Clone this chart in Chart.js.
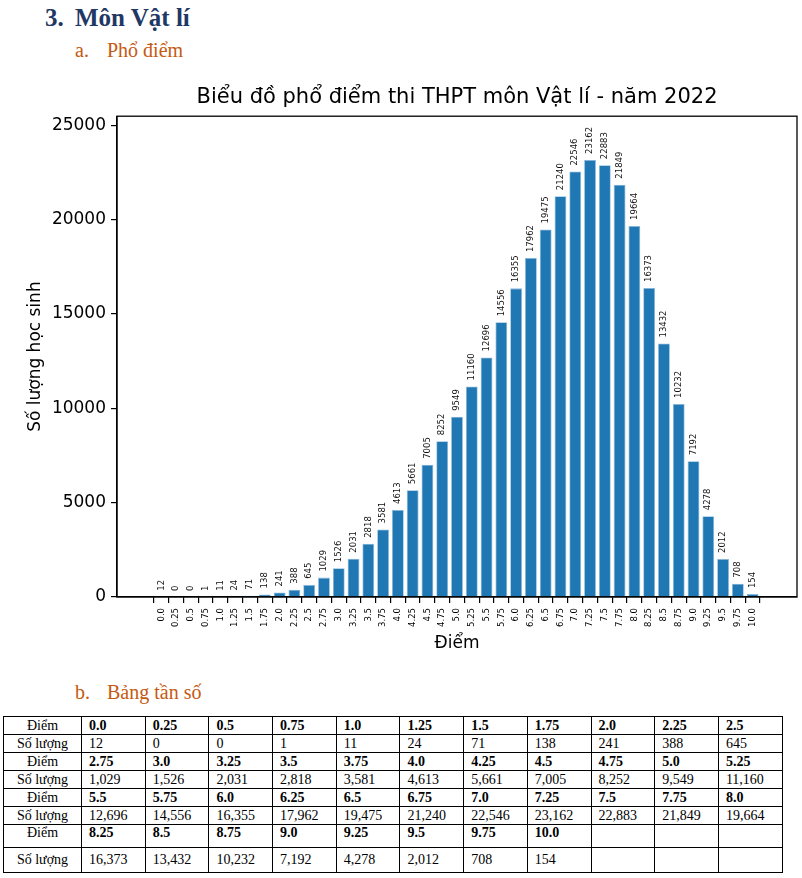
<!DOCTYPE html>
<html>
<head>
<meta charset="utf-8">
<script src="https://cdn.jsdelivr.net/npm/chart.js@4.4.0/dist/chart.umd.min.js"></script>
<style>
  html, body { margin: 0; padding: 0; background: #fff; }
  body { width: 802px; height: 878px; position: relative; overflow: hidden; }
  .h1 { position: absolute; font-family: "Liberation Serif", serif; font-weight: bold; font-size: 25px; line-height: 30px; color: #1F3864; white-space: nowrap; }
  .h2 { position: absolute; font-family: "Liberation Serif", serif; font-size: 20px; line-height: 24px; color: #C55A11; white-space: nowrap; }
  #chartWrap { position: absolute; left: 0; top: 80px; width: 802px; height: 580px; }
  table { position: absolute; left: 3px; top: 716px; border-collapse: collapse; table-layout: fixed; width: 779px;
          font-family: "Liberation Serif", serif; font-size: 14px; color: #000; }
  td { border: 1px solid #000; padding: 0 0 0 7px; vertical-align: middle; line-height: 16px; white-space: nowrap; overflow: hidden; }
  td.lab { text-align: center; padding: 0; }
  tr.sc td { font-weight: bold; }
  tr.sc td.lab { font-weight: normal; }
</style>
</head>
<body>
<div class="h1" style="left:45px; top:3px;">3.</div>
<div class="h1" style="left:75px; top:3px;">Môn Vật lí</div>
<div class="h2" style="left:75px; top:38px;">a.</div>
<div class="h2" style="left:107px; top:38px;">Phổ điểm</div>
<div class="h2" style="left:75px; top:680px;">b.</div>
<div class="h2" style="left:107px; top:680px;">Bảng tần số</div>

<div id="chartWrap"><canvas id="c" width="802" height="580"></canvas></div>
<table id="tbl"></table>

<script>
// ---- data ----
const scores = ["0.0","0.25","0.5","0.75","1.0","1.25","1.5","1.75","2.0","2.25","2.5",
  "2.75","3.0","3.25","3.5","3.75","4.0","4.25","4.5","4.75","5.0","5.25",
  "5.5","5.75","6.0","6.25","6.5","6.75","7.0","7.25","7.5","7.75","8.0",
  "8.25","8.5","8.75","9.0","9.25","9.5","9.75","10.0"];
const counts = [12,0,0,1,11,24,71,138,241,388,645,
  1029,1526,2031,2818,3581,4613,5661,7005,8252,9549,11160,
  12696,14556,16355,17962,19475,21240,22546,23162,22883,21849,19664,
  16373,13432,10232,7192,4278,2012,708,154];
const yTicks = [0, 5000, 10000, 15000, 20000, 25000];
const chartTitle = "Biểu đồ phổ điểm thi THPT môn Vật lí - năm 2022";
const xTitle = "Điểm";
const yTitle = "Số lượng học sinh";
const rowLabelScore = "Điểm";
const rowLabelCount = "Số lượng";

// ---- table ----
(function buildTable() {
  const tbl = document.getElementById('tbl');
  const cg = document.createElement('colgroup');
  const c0 = document.createElement('col'); c0.style.width = '78px'; cg.appendChild(c0);
  for (let i = 0; i < 11; i++) { const c = document.createElement('col'); c.style.width = '63.7px'; cg.appendChild(c); }
  tbl.appendChild(cg);
  const heights = [[18, 18], [18, 18], [18, 18], [23, 25]];
  for (let g = 0; g < 4; g++) {
    const r1 = document.createElement('tr'); r1.className = 'sc'; r1.style.height = heights[g][0] + 'px';
    const r2 = document.createElement('tr'); r2.style.height = heights[g][1] + 'px';
    const l1 = document.createElement('td'); l1.className = 'lab'; l1.textContent = rowLabelScore; r1.appendChild(l1);
    const l2 = document.createElement('td'); l2.className = 'lab'; l2.textContent = rowLabelCount; r2.appendChild(l2);
    for (let k = 0; k < 11; k++) {
      const idx = g * 11 + k;
      const a = document.createElement('td');
      const b = document.createElement('td');
      if (idx < scores.length) {
        a.textContent = scores[idx];
        b.textContent = counts[idx].toLocaleString('en-US');
      }
      if (g === 3) { a.style.verticalAlign = 'top'; l1.style.verticalAlign = 'top'; }
      r1.appendChild(a); r2.appendChild(b);
    }
    tbl.appendChild(r1); tbl.appendChild(r2);
  }
})();

// ---- chart ----
const FONT = "DejaVu Sans";
const yMax = Math.max(...counts) * 1.1;
const n = scores.length;
const span = (n - 1) + 0.8;
const xMin = -0.4 - 0.05 * span;
const xMax = (n - 1) + 0.4 + 0.05 * span;

const frame = {
  id: 'frame',
  afterDatasetsDraw(chart) {
    const {ctx} = chart;
    const meta = chart.getDatasetMeta(0);
    ctx.save();
    ctx.fillStyle = '#111';
    ctx.font = '8.5px "' + FONT + '"';
    ctx.textAlign = 'left';
    ctx.textBaseline = 'middle';
    meta.data.forEach((el, i) => {
      ctx.save();
      ctx.translate(el.x, el.y - 6);
      ctx.rotate(-Math.PI / 2);
      ctx.fillText(String(counts[i]), 0, 0);
      ctx.restore();
    });
    ctx.restore();
  },
  afterDraw(chart) {
    const {ctx, chartArea: a} = chart;
    ctx.save();
    ctx.strokeStyle = '#000';
    ctx.lineWidth = 1.3;
    ctx.strokeRect(a.left, a.top, a.right - a.left, a.bottom - a.top);
    ctx.restore();
  }
};

new Chart(document.getElementById('c'), {
  type: 'bar',
  data: {
    datasets: [{
      data: counts.map((v, i) => ({x: i, y: v})),
      backgroundColor: '#1f77b4',
      borderColor: '#8ab8da',
      borderWidth: 0.8,
      barPercentage: 1.0,
      categoryPercentage: 0.8
    }]
  },
  plugins: [frame],
  options: {
    responsive: false,
    animation: false,
    devicePixelRatio: 1,
    layout: { padding: { left: 0, right: 5, top: 1, bottom: 0 } },
    plugins: {
      legend: { display: false },
      tooltip: { enabled: false },
      title: {
        display: true, text: chartTitle, fullSize: false,
        color: '#000', font: { family: FONT, size: 21, weight: 'normal' },
        padding: { top: 4, bottom: 6 }
      }
    },
    scales: {
      x: {
        type: 'linear', min: xMin, max: xMax,
        afterBuildTicks: (s) => { s.ticks = scores.map((_, i) => ({value: i})); },
        afterFit: (s) => { s.height = 63; },
        ticks: {
          autoSkip: false, minRotation: 90, maxRotation: 90, padding: 5,
          color: '#000', font: { family: FONT, size: 8.5 },
          callback: (v) => scores[v] !== undefined ? scores[v] : ''
        },
        grid: { drawOnChartArea: false, drawTicks: true, tickLength: 6, color: '#000', lineWidth: 1.2 },
        border: { display: true, color: '#000', width: 1.3 },
        title: { display: true, text: xTitle, color: '#000', font: { family: FONT, size: 17 }, padding: { top: 0, bottom: 6 } }
      },
      y: {
        min: 0, max: yMax,
        afterBuildTicks: (s) => { s.ticks = yTicks.map(v => ({value: v})); },
        afterFit: (s) => { s.width = 117; },
        ticks: { color: '#000', font: { family: FONT, size: 17 }, padding: 5, callback: (v) => String(v) },
        grid: { drawOnChartArea: false, drawTicks: true, tickLength: 6, color: '#000', lineWidth: 1.2 },
        border: { display: true, color: '#000', width: 1.3 },
        title: { display: true, text: yTitle, color: '#000', font: { family: FONT, size: 17 }, padding: { top: 25, bottom: 0 } }
      }
    }
  }
});
</script>
</body>
</html>
